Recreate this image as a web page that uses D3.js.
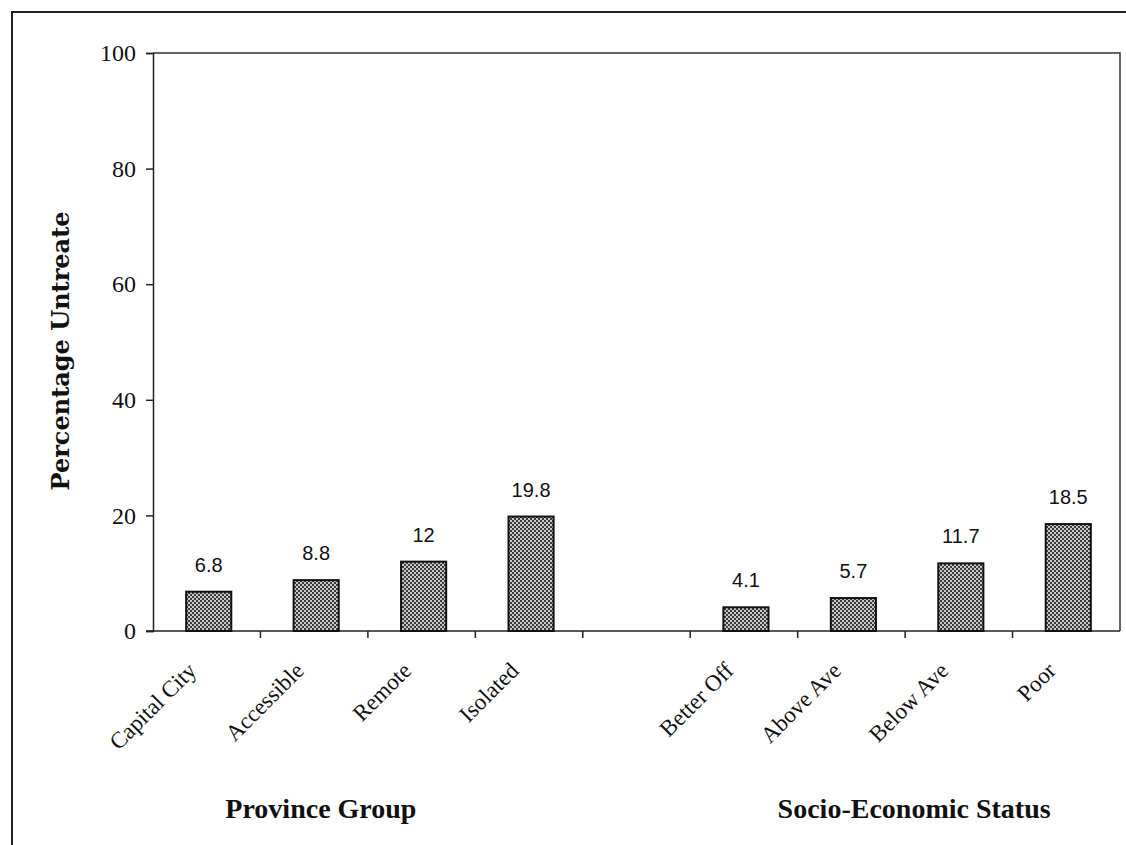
<!DOCTYPE html>
<html>
<head>
<meta charset="utf-8">
<style>
    body { margin: 0; background: #fff; }
    svg { display: block; }
</style>
</head>
<body>
<svg width="1126" height="845"></svg>
<script src="https://d3js.org/d3.v7.min.js"></script>
<script>
    // data
    let groupA = ["Capital City", "Accessible", "Remote", "Isolated"];
    let groupB = ["Better Off", "Above Ave", "Below Ave", "Poor"];
    let valuesA = [6.8, 8.8, 12, 19.8];
    let valuesB = [4.1, 5.7, 11.7, 18.5];
    let yTicks = [0, 20, 40, 60, 80, 100];
    let groupTitles = ["Province Group", "Socio-Economic Status"];

    let width = 1126, height = 845;
    let margin = { top: 53, right: 6, bottom: 214, left: 153 };

    let svg = d3.select("svg");

    // one empty slot between the two groups
    let slots = groupA.concat(["_gap"]).concat(groupB);
    let rows = groupA.map((c, i) => ({ cat: c, v: valuesA[i] }))
        .concat(groupB.map((c, i) => ({ cat: c, v: valuesB[i] })));

    let x = d3.scaleBand()
        .domain(slots)
        .range([margin.left, width - margin.right])
        .padding(0);

    let y = d3.scaleLinear()
        .domain([0, 100])
        .range([height - margin.bottom, margin.top]);

    let serif = "'Liberation Serif', 'Times New Roman', serif";

    // hatch pattern for the bars
    let defs = svg.append("defs");
    let pat = defs.append("pattern")
        .attr("id", "dots")
        .attr("width", 4).attr("height", 4)
        .attr("patternUnits", "userSpaceOnUse");
    pat.append("rect").attr("width", 4).attr("height", 4).attr("fill", "#c8c8c8");
    pat.append("rect").attr("width", 2).attr("height", 2).attr("fill", "#3a3a3a");
    pat.append("rect").attr("x", 2).attr("y", 2).attr("width", 2).attr("height", 2).attr("fill", "#3a3a3a");

    // outer frame
    svg.append("rect")
        .attr("x", 12).attr("y", 12)
        .attr("width", width).attr("height", height)
        .attr("fill", "none")
        .attr("stroke", "#222")
        .attr("stroke-width", 2);

    // plot box (top + right)
    svg.append("path")
        .attr("d", `M${margin.left},${y(100)}H${width - margin.right}V${y(0)}`)
        .attr("fill", "none")
        .attr("stroke", "#333")
        .attr("stroke-width", 1.5);

    // y axis
    let yAxis = svg.append("g")
        .attr("transform", `translate(${margin.left},0)`)
        .call(d3.axisLeft(y).tickValues(yTicks).tickSize(7).tickPadding(10));
    yAxis.select(".domain").attr("stroke", "#222").attr("stroke-width", 1.5);
    yAxis.selectAll(".tick line").attr("stroke", "#222").attr("stroke-width", 1.5);
    yAxis.selectAll("text")
        .style("font-family", serif)
        .style("font-size", "24px")
        .attr("fill", "#111");

    // x axis line and ticks at slot boundaries
    let xAxis = svg.append("g");
    xAxis.append("line")
        .attr("x1", margin.left - 7).attr("x2", width - margin.right)
        .attr("y1", y(0)).attr("y2", y(0))
        .attr("stroke", "#222").attr("stroke-width", 1.5);
    xAxis.selectAll(".xtick")
        .data(slots.slice(1))
        .join("line")
        .attr("x1", d => x(d)).attr("x2", d => x(d))
        .attr("y1", y(0)).attr("y2", y(0) + 7)
        .attr("stroke", "#222").attr("stroke-width", 1.5);

    // category labels
    svg.selectAll(".cat")
        .data(rows)
        .join("text")
        .attr("class", "cat")
        .attr("transform", d => `translate(${x(d.cat) + x.bandwidth() / 2 - 9},${y(0) + 41}) rotate(-45)`)
        .attr("text-anchor", "end")
        .style("font-family", serif)
        .style("font-size", "23px")
        .attr("fill", "#111")
        .text(d => d.cat);

    // bars
    let bw = x.bandwidth() * 0.42;
    svg.selectAll(".bar")
        .data(rows)
        .join("rect")
        .attr("class", "bar")
        .attr("x", d => x(d.cat) + x.bandwidth() / 2 - bw / 2 + 2)
        .attr("y", d => y(d.v))
        .attr("width", bw)
        .attr("height", d => y(0) - y(d.v))
        .attr("fill", "url(#dots)")
        .attr("stroke", "#111")
        .attr("stroke-width", 2);

    // value labels
    svg.selectAll(".val")
        .data(rows)
        .join("text")
        .attr("class", "val")
        .attr("x", d => x(d.cat) + x.bandwidth() / 2 + 2)
        .attr("y", d => y(d.v) - 20)
        .attr("text-anchor", "middle")
        .style("font-family", "'Liberation Sans', Arial, sans-serif")
        .style("font-size", "20px")
        .attr("fill", "#111")
        .text(d => d.v);

    // y title
    svg.append("text")
        .attr("transform", `translate(69,${(y(0) + y(100)) / 2 + 9}) rotate(-90)`)
        .attr("text-anchor", "middle")
        .style("font-family", "'DejaVu Serif', serif")
        .style("font-weight", "bold")
        .style("font-size", "24px")
        .attr("fill", "#111")
        .text("Percentage Untreate");

    // group titles
    let groupCenters = [
        (x(groupA[0]) + x(groupA[3]) + x.bandwidth()) / 2 - 47,
        (x(groupB[0]) + x(groupB[3]) + x.bandwidth()) / 2 + 9
    ];
    svg.selectAll(".grp")
        .data(groupTitles)
        .join("text")
        .attr("class", "grp")
        .attr("x", (d, i) => groupCenters[i])
        .attr("y", 818)
        .attr("text-anchor", "middle")
        .style("font-family", serif)
        .style("font-weight", "bold")
        .style("font-size", "28px")
        .attr("fill", "#111")
        .text(d => d);
</script>
</body>
</html>
